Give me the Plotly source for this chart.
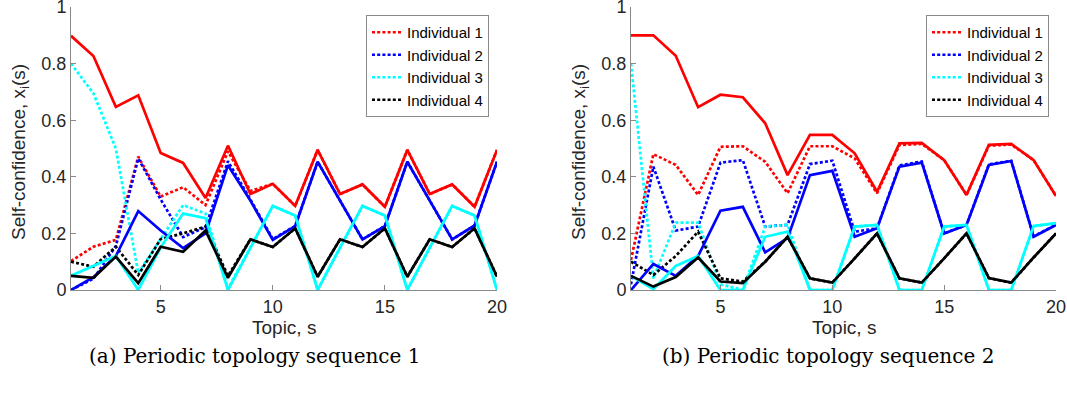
import plotly.graph_objects as go

topics = list(range(1, 21))
names = ["Individual 1", "Individual 2", "Individual 3", "Individual 4"]
colors = ["#ff0000", "#0000ff", "#00ffff", "#000000"]

# (a) Periodic topology sequence 1
a_dot_1 = [0.102, 0.153, 0.177, 0.471, 0.33, 0.363, 0.3, 0.49, 0.35, 0.375, 0.297, 0.495, 0.339, 0.373, 0.294, 0.495, 0.339, 0.373, 0.294, 0.495]
a_dot_2 = [0.0, 0.04, 0.155, 0.465, 0.32, 0.187, 0.222, 0.455, 0.32, 0.18, 0.226, 0.453, 0.316, 0.179, 0.226, 0.453, 0.316, 0.179, 0.228, 0.453]
a_dot_3 = [0.8, 0.695, 0.5, 0.06, 0.18, 0.3, 0.27, 0.005, 0.15, 0.297, 0.263, 0.0, 0.15, 0.297, 0.263, 0.0, 0.15, 0.297, 0.263, 0.0]
a_dot_4 = [0.1, 0.082, 0.153, 0.053, 0.18, 0.2, 0.224, 0.05, 0.179, 0.152, 0.218, 0.047, 0.179, 0.152, 0.218, 0.047, 0.179, 0.152, 0.218, 0.047]
a_sol_1 = [0.898, 0.827, 0.647, 0.688, 0.484, 0.449, 0.325, 0.51, 0.339, 0.375, 0.297, 0.495, 0.339, 0.373, 0.294, 0.495, 0.339, 0.373, 0.294, 0.495]
a_sol_2 = [0.0, 0.045, 0.12, 0.279, 0.21, 0.148, 0.2, 0.441, 0.316, 0.177, 0.226, 0.453, 0.316, 0.179, 0.226, 0.453, 0.316, 0.179, 0.228, 0.453]
a_sol_3 = [0.05, 0.085, 0.12, 0.0, 0.15, 0.27, 0.254, 0.0, 0.15, 0.297, 0.263, 0.0, 0.15, 0.297, 0.263, 0.0, 0.15, 0.297, 0.263, 0.0]
a_sol_4 = [0.05, 0.043, 0.118, 0.024, 0.153, 0.135, 0.21, 0.043, 0.179, 0.152, 0.218, 0.047, 0.179, 0.152, 0.218, 0.047, 0.179, 0.152, 0.218, 0.047]

# (b) Periodic topology sequence 2
b_dot_1 = [0.106, 0.48, 0.442, 0.336, 0.506, 0.508, 0.453, 0.342, 0.508, 0.508, 0.465, 0.342, 0.512, 0.516, 0.459, 0.336, 0.51, 0.514, 0.459, 0.332]
b_dot_2 = [0.02, 0.436, 0.21, 0.224, 0.45, 0.459, 0.224, 0.23, 0.445, 0.457, 0.206, 0.218, 0.44, 0.454, 0.2, 0.23, 0.444, 0.456, 0.19, 0.23]
b_dot_3 = [0.8, 0.041, 0.238, 0.238, 0.02, 0.0, 0.224, 0.23, 0.0, 0.0, 0.224, 0.23, 0.0, 0.0, 0.224, 0.23, 0.0, 0.0, 0.226, 0.236]
b_dot_4 = [0.1, 0.053, 0.12, 0.206, 0.041, 0.03, 0.1, 0.188, 0.041, 0.026, 0.112, 0.2, 0.041, 0.026, 0.112, 0.2, 0.042, 0.026, 0.115, 0.2]
b_sol_1 = [0.9, 0.9, 0.828, 0.646, 0.69, 0.681, 0.589, 0.406, 0.548, 0.548, 0.483, 0.347, 0.518, 0.52, 0.459, 0.336, 0.513, 0.516, 0.459, 0.332]
b_sol_2 = [0.0, 0.092, 0.05, 0.12, 0.28, 0.294, 0.133, 0.183, 0.406, 0.421, 0.188, 0.218, 0.436, 0.45, 0.2, 0.23, 0.442, 0.456, 0.188, 0.23]
b_sol_3 = [0.05, 0.003, 0.085, 0.12, 0.0, 0.0, 0.188, 0.206, 0.0, 0.0, 0.224, 0.23, 0.0, 0.0, 0.224, 0.23, 0.0, 0.0, 0.226, 0.236]
b_sol_4 = [0.05, 0.012, 0.046, 0.115, 0.03, 0.024, 0.1, 0.188, 0.041, 0.026, 0.112, 0.2, 0.041, 0.026, 0.112, 0.2, 0.042, 0.026, 0.115, 0.2]

y_ticks = [0, 0.2, 0.4, 0.6, 0.8, 1]
y_tick_text = ["0", "0.2", "0.4", "0.6", "0.8", "1"]
x_ticks = [5, 10, 15, 20]
captions = ["(a) Periodic topology sequence 1", "(b) Periodic topology sequence 2"]

panels = [
    dict(dots=[a_dot_1, a_dot_2, a_dot_3, a_dot_4], sols=[a_sol_1, a_sol_2, a_sol_3, a_sol_4],
         xa="x", ya="y", legend="legend"),
    dict(dots=[b_dot_1, b_dot_2, b_dot_3, b_dot_4], sols=[b_sol_1, b_sol_2, b_sol_3, b_sol_4],
         xa="x2", ya="y2", legend="legend2"),
]

fig = go.Figure()
LW = 2.7
for p in panels:
    for i in range(4):
        fig.add_trace(go.Scatter(x=topics, y=p["dots"][i], mode="lines", name=names[i],
                                 line=dict(color=colors[i], width=LW, dash="3px,2.2px"),
                                 xaxis=p["xa"], yaxis=p["ya"], legend=p["legend"], showlegend=True))
    for i in range(4):
        fig.add_trace(go.Scatter(x=topics, y=p["sols"][i], mode="lines", name=names[i],
                                 line=dict(color=colors[i], width=LW),
                                 xaxis=p["xa"], yaxis=p["ya"], showlegend=False))

W, H = 1067, 402
dom_left = [71 / W, 497 / W]
dom_right = [631 / W, 1056 / W]
dom_y = [(H - 290) / H, (H - 7) / H]

axis_common = dict(showgrid=False, zeroline=False, showline=True, linecolor="#8a8a8a", linewidth=1,
                   ticks="inside", ticklen=5, tickcolor="#8a8a8a", mirror=False,
                   ticklabeloverflow="allow", automargin=False,
                   tickfont=dict(family="Liberation Sans, Arial", size=18, color="#262626"))
fig.update_layout(
    width=W, height=H, margin=dict(l=0, r=0, t=0, b=0, autoexpand=False),
    plot_bgcolor="white", paper_bgcolor="white",
    xaxis=dict(domain=dom_left, range=[1, 20], tickvals=x_ticks, anchor="y", **axis_common),
    yaxis=dict(domain=dom_y, range=[0, 1], tickvals=y_ticks, ticktext=y_tick_text, anchor="x", **axis_common),
    xaxis2=dict(domain=dom_right, range=[1, 20], tickvals=x_ticks, anchor="y2", **axis_common),
    yaxis2=dict(domain=dom_y, range=[0, 1], tickvals=y_ticks, ticktext=y_tick_text, anchor="x2", **axis_common),
)

leg_common = dict(bgcolor="white", bordercolor="#8a8a8a", borderwidth=1, xanchor="right", yanchor="top",
                  font=dict(family="Liberation Sans, Arial", size=15, color="#000000"),
                  tracegroupgap=0, itemwidth=30)
fig.update_layout(
    legend=dict(x=489 / W, y=(H - 15) / H, **leg_common),
    legend2=dict(x=1049 / W, y=(H - 15) / H, **leg_common),
)

title_font = dict(family="Liberation Sans, Arial", size=19, color="#262626")
for xc, yc_lab in [((71 + 497) / 2, 20), ((631 + 1056) / 2, 580)]:
    fig.add_annotation(x=xc / W, y=(H - 327) / H, xref="paper", yref="paper", text="Topic, s",
                       showarrow=False, font=title_font, xanchor="center", yanchor="middle")
    fig.add_annotation(x=yc_lab / W, y=(H - 152) / H, xref="paper", yref="paper",
                       text="Self-confidence, x<sub>i</sub>(s)", textangle=-90,
                       showarrow=False, font=title_font, xanchor="center", yanchor="middle")

for xc, cap in zip([254, 828], captions):
    fig.add_annotation(x=xc / W, y=(H - 356) / H, xref="paper", yref="paper", text=cap,
                       showarrow=False, font=dict(family="DejaVu Serif, Liberation Serif", size=20, color="#000000"),
                       xanchor="center", yanchor="middle")

fig.write_html("out.html", config={"displayModeBar": False},
               post_script="document.body.style.margin='0px';document.body.style.overflow='hidden';")
